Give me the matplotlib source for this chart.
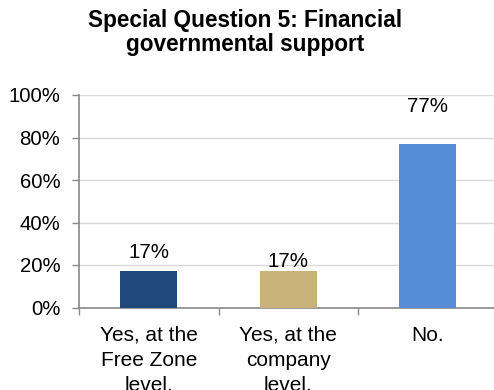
import matplotlib
matplotlib.use("Agg")
import matplotlib.pyplot as plt
from matplotlib.ticker import FixedLocator, NullFormatter

categories = ["Yes, at the\nFree Zone\nlevel.", "Yes, at the\ncompany\nlevel.", "No."]
values = [17, 17, 77]
value_labels = ["17%", "17%", "77%"]
y_ticks = [0, 20, 40, 60, 80, 100]
y_tick_labels = ["0%", "20%", "40%", "60%", "80%", "100%"]
title = "Special Question 5: Financial\ngovernmental support"

colors = ["#1F497D", "#C9B37B", "#558ED5"]
label_offsets = [13.5, 7.3, 27]  # points from bar top to label centre

plt.rcParams["font.family"] = ["Liberation Sans", "DejaVu Sans"]

W, H, DPI = 494, 390, 100
fig = plt.figure(figsize=(W / DPI, H / DPI), dpi=DPI)
left, right = 79, 497.5
bottom, top = 390 - 307.5, 390 - 95
ax = fig.add_axes([left / W, bottom / H, (right - left) / W, (top - bottom) / H])

x = list(range(len(categories)))
ax.bar(x, values, width=0.41, color=colors, zorder=3)
ax.set_xlim(-0.5, len(categories) - 0.5)
ax.set_ylim(0, 100)

ax.set_yticks(y_ticks)
ax.set_yticklabels(y_tick_labels, fontsize=14.7)
ax.yaxis.grid(True, color="#D9D9D9", linewidth=1.0, zorder=0)

ax.set_xticks(x)
ax.set_xticklabels(categories, fontsize=15, linespacing=1.4)
ax.tick_params(axis="x", which="major", length=0, pad=13)
ax.xaxis.set_minor_locator(FixedLocator([-0.5, 0.5, 1.5, 2.5]))
ax.xaxis.set_minor_formatter(NullFormatter())
ax.tick_params(axis="x", which="minor", length=5, color="#898989", width=1)
ax.tick_params(axis="y", length=5, color="#898989", width=1, pad=8.5)

for s in ["top", "right"]:
    ax.spines[s].set_visible(False)
for s in ["left", "bottom"]:
    ax.spines[s].set_color("#898989")
    ax.spines[s].set_linewidth(1.2)

for xi, v, lab, off in zip(x, values, value_labels, label_offsets):
    ax.annotate(lab, (xi, v), xytext=(0, off), textcoords="offset points",
                ha="center", va="center", fontsize=14.8, zorder=4)

fig.text(245.5 / W, 1 - 9 / H, title, ha="center", va="top",
         fontsize=16.3, fontweight="bold", linespacing=1.05)

fig.savefig("out.png", dpi=DPI)
